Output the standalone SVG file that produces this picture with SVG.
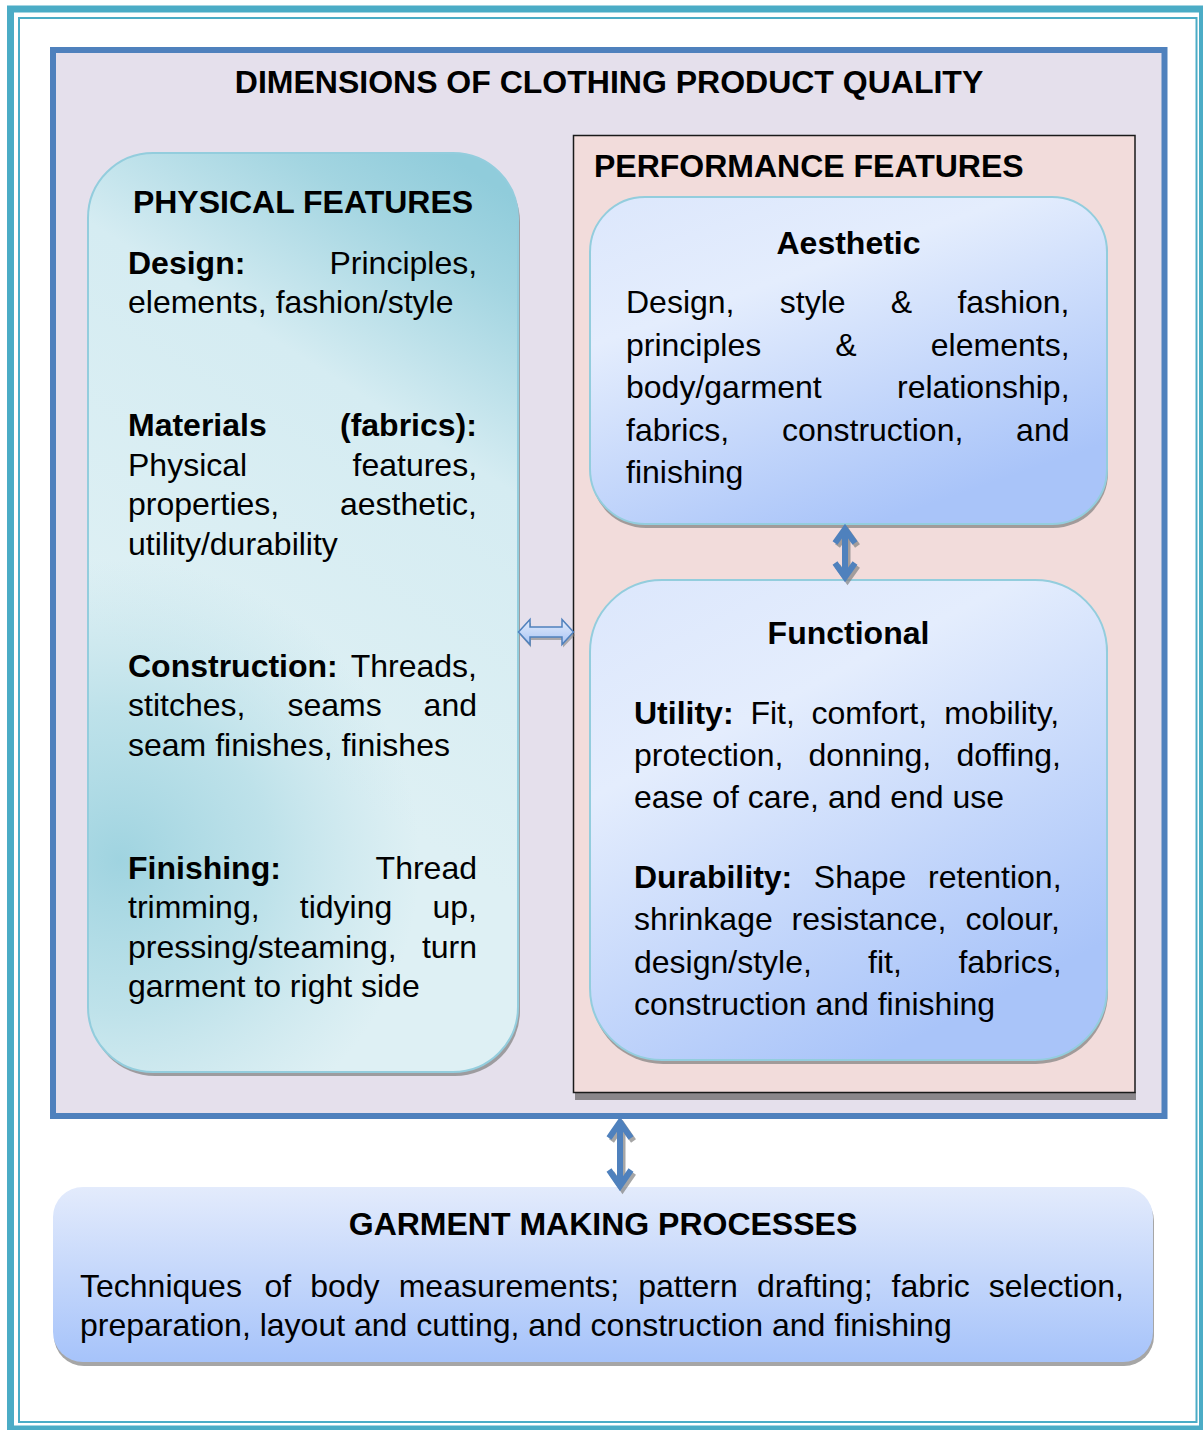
<svg xmlns="http://www.w3.org/2000/svg" width="1203" height="1430" viewBox="0 0 1203 1430">
<defs>
<style>
.t{font-family:'Liberation Sans',Arial,sans-serif;font-size:32px;fill:#000}
.b{font-weight:bold}
.m{text-anchor:middle}
.shd{fill:#7f7f7f;opacity:0.7}
.arr{fill:none;stroke:#4F81BD;stroke-width:6;stroke-linejoin:miter;stroke-linecap:butt}
.arrs{fill:none;stroke:#808080;stroke-width:6;opacity:0.7}
</style>
<linearGradient id="gTeal" gradientUnits="userSpaceOnUse" x1="518" y1="200" x2="200" y2="700">
<stop offset="0" stop-color="#90CCDB"/>
<stop offset="0.14" stop-color="#A3D5E1"/>
<stop offset="0.42" stop-color="#D5ECF2"/>
<stop offset="1" stop-color="#DEF0F4"/>
</linearGradient>
<radialGradient id="gTeal2" gradientUnits="userSpaceOnUse" cx="120" cy="860" r="300">
<stop offset="0" stop-color="#9CD2DF" stop-opacity="0.95"/>
<stop offset="0.5" stop-color="#A8D8E3" stop-opacity="0.6"/>
<stop offset="1" stop-color="#B5DDE7" stop-opacity="0"/>
</radialGradient>
<linearGradient id="gBlue" x1="0" y1="0" x2="0.55" y2="1">
<stop offset="0" stop-color="#DCE7FC"/>
<stop offset="0.35" stop-color="#E4EDFD"/>
<stop offset="1" stop-color="#A9C4F9"/>
</linearGradient>
<linearGradient id="gBot" x1="0" y1="0" x2="0" y2="1">
<stop offset="0" stop-color="#E3EBFC"/>
<stop offset="1" stop-color="#A6C3FA"/>
</linearGradient>
<linearGradient id="gArr" x1="0" y1="0" x2="0" y2="1">
<stop offset="0" stop-color="#E3ECFC"/>
<stop offset="1" stop-color="#A8C4F4"/>
</linearGradient>
</defs>
<rect width="1203" height="1430" fill="#fff"/>
<g id="page-border">
<rect x="10.5" y="9" width="1192" height="1420" fill="none" stroke="#4BACC6" stroke-width="7"/>
<rect x="19" y="18" width="1177.5" height="1404" fill="none" stroke="#4BACC6" stroke-width="2"/>
</g>
<g id="dimensions">
<rect x="53" y="50" width="1111.5" height="1066" fill="#E5E0EC" stroke="#4F81BD" stroke-width="6"/>
<text class="t b m" x="609" y="93">DIMENSIONS OF CLOTHING PRODUCT QUALITY</text>
</g>
<g id="physical">
<rect x="90" y="157" width="430" height="919" rx="65" class="shd"/>
<rect x="88" y="153" width="430" height="919" rx="65" fill="url(#gTeal)"/>
<rect x="88" y="153" width="430" height="919" rx="65" fill="url(#gTeal2)" stroke="#93CDDD" stroke-width="2"/>
<text class="t b m" x="303" y="212.5">PHYSICAL FEATURES</text>
<text class="t" y="273.5"><tspan class="b" x="128">Design:</tspan><tspan x="329.5">Principles,</tspan></text>
<text class="t" x="128" y="313">elements, fashion/style</text>
<text class="t b" y="436"><tspan x="128">Materials</tspan><tspan x="340">(fabrics):</tspan></text>
<text class="t" y="475.5"><tspan x="128">Physical</tspan><tspan x="352.5">features,</tspan></text>
<text class="t" y="515"><tspan x="128">properties,</tspan><tspan x="340">aesthetic,</tspan></text>
<text class="t" x="128" y="554.5">utility/durability</text>
<text class="t" y="676.5"><tspan class="b" x="128">Construction:</tspan><tspan x="350.7">Threads,</tspan></text>
<text class="t" y="716"><tspan x="128">stitches,</tspan><tspan x="287.4">seams</tspan><tspan x="423.6">and</tspan></text>
<text class="t" x="128" y="755.5">seam finishes, finishes</text>
<text class="t" y="878.5"><tspan class="b" x="128">Finishing:</tspan><tspan x="375.6">Thread</tspan></text>
<text class="t" y="918"><tspan x="128">trimming,</tspan><tspan x="299.8">tidying</tspan><tspan x="432.5">up,</tspan></text>
<text class="t" y="957.5"><tspan x="128">pressing/steaming,</tspan><tspan x="421.9">turn</tspan></text>
<text class="t" x="128" y="997">garment to right side</text>
</g>
<g id="performance">
<rect x="575" y="1092" width="561" height="8" fill="#8a868a"/>
<rect x="573.5" y="135.5" width="561.5" height="957" fill="#F2DCDB" stroke="#1a1a1a" stroke-width="1.5"/>
<text class="t b" x="594" y="177">PERFORMANCE FEATURES</text>
</g>
<g id="aesthetic">
<rect x="591" y="201" width="517" height="327" rx="55" class="shd"/>
<rect x="590" y="197" width="517" height="327" rx="55" fill="url(#gBlue)" stroke="#93CDDD" stroke-width="2"/>
<text class="t b m" x="848.5" y="253.5">Aesthetic</text>
<text class="t" y="313"><tspan x="626">Design,</tspan><tspan x="779.8">style</tspan><tspan x="890.7">&amp;</tspan><tspan x="957.4">fashion,</tspan></text>
<text class="t" y="355.5"><tspan x="626">principles</tspan><tspan x="835.3">&amp;</tspan><tspan x="930.8">elements,</tspan></text>
<text class="t" y="398"><tspan x="626">body/garment</tspan><tspan x="897">relationship,</tspan></text>
<text class="t" y="440.5"><tspan x="626">fabrics,</tspan><tspan x="781.9">construction,</tspan><tspan x="1016.1">and</tspan></text>
<text class="t" x="626" y="483">finishing</text>
</g>
<g id="functional">
<rect x="591" y="584" width="517" height="480" rx="72" class="shd"/>
<rect x="590" y="580" width="517" height="480" rx="72" fill="url(#gBlue)" stroke="#93CDDD" stroke-width="2"/>
<text class="t b m" x="848.5" y="643.5">Functional</text>
<text class="t" y="723.5"><tspan class="b" x="634">Utility:</tspan><tspan x="750.4">Fit,</tspan><tspan x="811.5">comfort,</tspan><tspan x="944.2">mobility,</tspan></text>
<text class="t" y="766"><tspan x="634">protection,</tspan><tspan x="808.4">donning,</tspan><tspan x="956.5">doffing,</tspan></text>
<text class="t" x="634" y="808">ease of care, and end use</text>
<text class="t" y="887.5"><tspan class="b" x="634">Durability:</tspan><tspan x="813.8">Shape</tspan><tspan x="928.1">retention,</tspan></text>
<text class="t" y="930"><tspan x="634">shrinkage</tspan><tspan x="791.6">resistance,</tspan><tspan x="965.5">colour,</tspan></text>
<text class="t" y="972.5"><tspan x="634">design/style,</tspan><tspan x="868.1">fit,</tspan><tspan x="958.4">fabrics,</tspan></text>
<text class="t" x="634" y="1015">construction and finishing</text>
</g>
<g id="garment-making">
<rect x="54" y="1191" width="1100" height="175" rx="30" fill="#a6a6a6"/>
<rect x="53" y="1187" width="1100" height="175" rx="30" fill="url(#gBot)"/>
<text class="t b m" x="603" y="1234.5">GARMENT MAKING PROCESSES</text>
<text class="t" y="1296.5"><tspan x="80">Techniques</tspan><tspan x="264.5">of</tspan><tspan x="310.2">body</tspan><tspan x="398.7">measurements;</tspan><tspan x="638.2">pattern</tspan><tspan x="756.9">drafting;</tspan><tspan x="891.5">fabric</tspan><tspan x="988.8">selection,</tspan></text>
<text class="t" x="80" y="1336">preparation, layout and cutting, and construction and finishing</text>
</g>
<g id="connectors">
<polygon points="520,635 531,622.5 531,630 563,630 563,622.5 575,635 563,647.5 563,640 531,640 531,647.5" fill="#808080" opacity="0.6"/>
<polygon points="518.5,632 530,619.5 530,627 562,627 562,619.5 573.5,632 562,644.5 562,637 530,637 530,644.5" fill="url(#gArr)" stroke="#4F81BD" stroke-width="1.5" stroke-linejoin="miter"/>
<g transform="translate(2.5,3)">
<path class="arrs" d="M845,529 V577 M835,543 L845,529 L855,543 M835,563 L845,577 L855,563"/>
</g>
<path class="arr" d="M845,529 V577 M835,543 L845,529 L855,543 M835,563 L845,577 L855,563"/>
<g transform="translate(2.5,3)">
<path class="arrs" d="M620,1122 V1186 M609,1138 L620,1122 L631,1138 M609,1170 L620,1186 L631,1170"/>
</g>
<path class="arr" d="M620,1122 V1186 M609,1138 L620,1122 L631,1138 M609,1170 L620,1186 L631,1170"/>
</g>
</svg>
